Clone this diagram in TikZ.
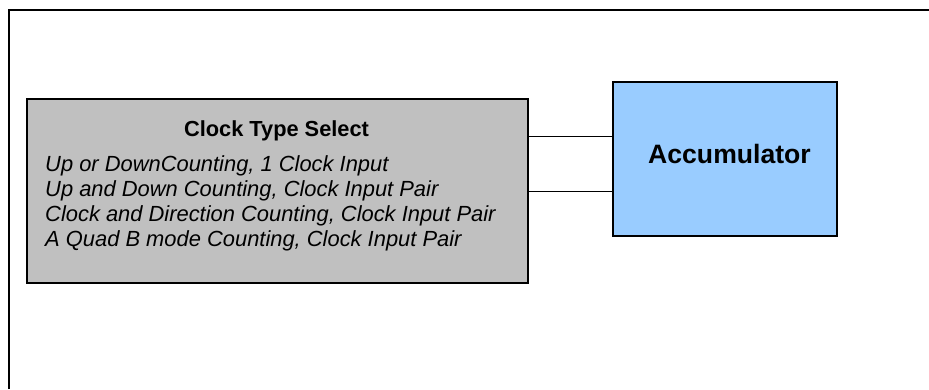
\documentclass[tikz,border=0pt]{standalone}
\usepackage{fontspec}
\setmainfont{Liberation Sans}
\definecolor{boxgray}{HTML}{C0C0C0}
\definecolor{accblue}{HTML}{99CCFF}
\begin{document}
\begin{tikzpicture}[x=1pt,y=-1pt,
  blockbox/.style={draw=black, line width=1.8pt, inner sep=0pt, outer sep=0pt, anchor=north west},
  itemtext/.style={font=\itshape\fontsize{21.9}{25}\selectfont, anchor=base west, inner sep=0pt},
  wire/.style={draw=black, line width=1pt}]
\useasboundingbox (0,0) rectangle (929,389);
% outer frame (top and left edges only visible)
\draw[line width=1.8pt] (9,389) -- (9,10) -- (929,10);
% blocks
\node[blockbox, fill=boxgray, minimum width=501pt, minimum height=184pt] (sel) at (27,99) {};
\node[blockbox, fill=accblue, minimum width=224pt, minimum height=154pt] (acc) at (613,82) {};
% texts
\node[font=\bfseries\fontsize{21.8}{26}\selectfont, anchor=base, inner sep=0pt] (title) at (276.5,136) {Clock Type Select};
\node[itemtext] (l1) at (45,171) {Up or DownCounting, 1 Clock Input};
\node[itemtext] (l2) at (45,196) {Up and Down Counting, Clock Input Pair};
\node[itemtext] (l3) at (45,221) {Clock and Direction Counting, Clock Input Pair};
\node[itemtext] (l4) at (45,246) {A Quad B mode Counting, Clock Input Pair};
\node[font=\bfseries\fontsize{26.6}{31}\selectfont, anchor=base, inner sep=0pt] (acclabel) at (729.5,163.3) {Accumulator};
% connectors
\coordinate (y1) at (0,136);
\coordinate (y2) at (0,191);
\draw[wire] (sel.east |- y1) -- (acc.west |- y1);
\draw[wire] (sel.east |- y2) -- (acc.west |- y2);
\end{tikzpicture}
\end{document}
